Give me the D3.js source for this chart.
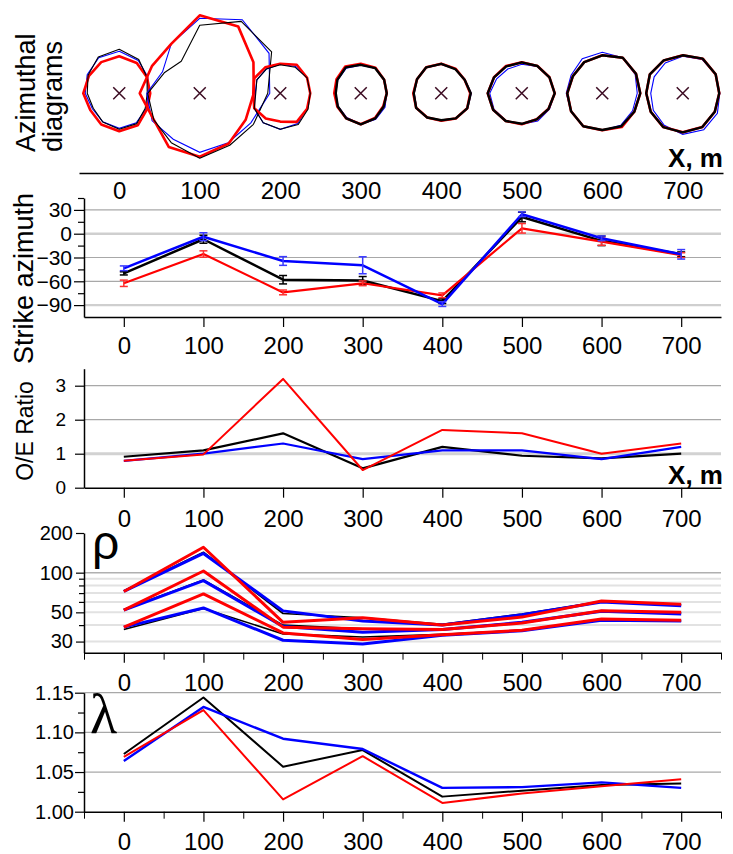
<!DOCTYPE html>
<html><head><meta charset="utf-8">
<script src="https://cdn.jsdelivr.net/npm/d3@7"></script>
<style>
body{margin:0;background:#fff;}
svg{display:block;}
</style></head><body>
<svg id="chart" width="733" height="854"></svg>
<script>
// ---------------- DATA ----------------
const positions = [0, 100, 200, 300, 400, 500, 600, 700];
const tickLabels = ["0", "100", "200", "300", "400", "500", "600", "700"];

// azimuthal diagrams: radii at azimuths 0,30,...,330 (clockwise from north)
const azAngles = [0, 30, 60, 90, 120, 150, 180, 210, 240, 270, 300, 330];
const azBlack = [
  [44, 39, 32, 28, 30, 35, 36, 33, 30, 32, 36, 42],
  [68, 83, 83, 68, 62, 60, 65, 57, 53, 52, 41, 37],
  [28.5, 30, 31, 30, 32, 36, 36, 34, 30, 24.5, 27, 28],
  [28.5, 29, 27, 26, 26.5, 29, 31, 29, 26.5, 25, 27, 30],
  [29.5, 28, 27, 29.5, 30, 29, 27, 28, 29, 27.5, 28, 30],
  [31, 31.5, 32, 33, 31, 30, 30.5, 32, 33, 34, 32, 31],
  [38, 41, 39, 38, 37, 38, 36.7, 38, 36, 35, 34, 36],
  [38, 40, 38, 36.5, 37, 39, 39, 39, 37, 36.5, 38, 38]
];
const azBlue = [
  [42, 38, 33, 29, 31, 34, 35, 33, 31, 34, 37, 41],
  [75, 85, 80, 70, 59, 57, 59, 53, 55, 53, 43, 57],
  [29, 31, 31, 30, 31, 35, 36, 34, 30, 25, 27, 28],
  [28, 29, 27, 26, 28, 30, 31, 28, 26, 25, 26.5, 29],
  [29, 28, 27.5, 30, 30.5, 29, 27, 28, 28.5, 27, 28, 29.5],
  [29, 31, 32, 33, 32, 32, 31, 31.5, 32, 32, 29, 28],
  [41, 41, 38, 35, 35, 37, 37, 38, 36, 36, 36, 40],
  [37, 39, 38, 37, 40, 42, 41, 37, 34, 32, 33, 35]
];
const azRed = [
  [37, 35, 32, 31, 32, 37, 38, 36, 33.5, 36, 35, 36],
  [78, 77, 62, 54, 53, 58, 63.5, 62, 53, 60, 55, 57],
  [29.5, 33, 31, 30, 31, 33, 28.3, 29, 30, 27, 30, 30],
  [29.5, 29.5, 27, 26, 26, 28.5, 31, 29, 27, 26.5, 28, 31],
  [29.5, 28.5, 27, 29, 30, 29, 27.5, 28, 29, 28, 28, 30],
  [31, 31.5, 32, 33, 31, 30, 31, 32, 33, 34, 32, 31.5],
  [38, 41, 39, 38, 37, 39, 37, 38, 36, 35, 34, 36],
  [38, 40, 38, 36.5, 37, 39, 39, 39, 37, 36.5, 38, 38]
];

// strike azimuth (deg) with error half-widths
const strikeBlack = [-50, -7, -58, -59, -85, 21, -9, -26];
const strikeBlackErr = [2, 5, 5.3, 5, 3, 6, 6, 3];
const strikeRed = [-62.5, -25.6, -74, -62.5, -77.7, 6.8, -10, -27];
const strikeRedErr = [4, 4, 3, 3, 3, 6, 4.6, 3];
const strikeBlue = [-43.6, -3.8, -34.4, -39.8, -88.7, 24.5, -5.8, -26];
const strikeBlueErr = [3, 5, 5.5, 10.7, 3, 3, 3, 6];
const strikeTicks = [30, 0, -30, -60, -90];
const strikeMinor = [45, 15, -15, -45, -75];

// O/E ratio
const oeBlack = [0.91, 1.1, 1.6, 0.57, 1.2, 0.94, 0.86, 1.0];
const oeBlue = [0.79, 1.0, 1.3, 0.84, 1.1, 1.1, 0.84, 1.2];
const oeRed = [0.79, 0.98, 3.2, 0.52, 1.7, 1.6, 1.0, 1.3];
const oeTicks = [0, 1, 2, 3];

// resistivity rho (three curves per colour)
const rhoBlackHi = [72.5, 143, 49, 45.5, 40.5, 48.5, 60.5, 57];
const rhoBlackMid = [52.5, 88, 40, 37.5, 37, 42, 51, 49.5];
const rhoBlackLo = [37, 53.5, 34.3, 32.5, 34, 36.5, 44, 43];
const rhoBlueHi = [72, 140, 51.3, 43, 40, 48, 60, 56];
const rhoBlueMid = [52, 87, 39, 35.3, 37, 42, 51, 48.5];
const rhoBlueLo = [38.6, 54, 30.7, 28.7, 33.5, 36.2, 43.5, 43];
const rhoRedHi = [72, 156, 42, 45.5, 40, 46, 61, 57.5];
const rhoRedMid = [52, 103, 38.6, 37.5, 37, 41.5, 51.5, 50];
const rhoRedLo = [38.6, 69, 34.9, 31.1, 33.8, 36.5, 44.5, 43.5];
const rhoTickLabels = [200, 100, 50, 30];
const rhoMinor = [90, 80, 70, 60, 40];
const rhoGrid = [90, 80, 70, 60, 50, 40, 30];

// anisotropy lambda
const lamBlack = [1.0727, 1.144, 1.0567, 1.0777, 1.019, 1.0265, 1.0336, 1.0357];
const lamBlue = [1.064, 1.132, 1.092, 1.079, 1.030, 1.031, 1.037, 1.030];
const lamRed = [1.069, 1.128, 1.0155, 1.070, 1.011, 1.023, 1.032, 1.041];
const lamTicks = [1.00, 1.05, 1.10, 1.15];
const lamMinor = [1.025, 1.075, 1.125];

// ---------------- DRAWING ----------------
const font = '"Liberation Sans", Arial, sans-serif';
const svg = d3.select("#chart").attr("font-family", font);
const C = {blue: "#0000ff", black: "#000000", red: "#ff0000"};

const xTop = d3.scaleLinear().domain([-50, 750]).range([79, 723]);
const xLow = d3.scaleLinear().domain([-50, 750]).range([84, 721]);
const rAz = d3.scaleLinear().domain([0, 100]).range([0, 100]);

// ---- Panel 1: azimuthal diagrams
const azCy = 93.3;
const radial = d3.lineRadial()
  .angle((d, i) => azAngles[i] * Math.PI / 180)
  .radius(d => rAz(d))
  .curve(d3.curveLinearClosed);

positions.forEach((p, s) => {
  const g = svg.append("g").attr("transform", `translate(${xTop(p)},${azCy})`);
  g.append("path").attr("d", radial(azBlue[s])).attr("fill", "none")
    .attr("stroke", C.blue).attr("stroke-width", 1.1);
  g.append("path").attr("d", radial(azRed[s])).attr("fill", "none")
    .attr("stroke", C.red).attr("stroke-width", 2.6).attr("stroke-linejoin", "round");
  g.append("path").attr("d", radial(azBlack[s])).attr("fill", "none")
    .attr("stroke", C.black).attr("stroke-width", s < 3 ? 1.1 : 2.4).attr("stroke-linejoin", "round");
  g.append("path").attr("d", "M-6,-6L6,6M-6,6L6,-6")
    .attr("stroke", "#3c0b22").attr("stroke-width", 1.5);
});

const topAxis = svg.append("g").attr("transform", "translate(0,173)")
  .call(d3.axisBottom(xTop).tickValues(positions).tickSize(0).tickSizeOuter(0)
    .tickPadding(9).tickFormat((d, i) => tickLabels[i]));
topAxis.select(".domain").attr("stroke-width", 1.5);
topAxis.selectAll("text").attr("font-size", 24).attr("font-family", font).attr("fill", "#000");

svg.append("text").attr("transform", "translate(35,152) rotate(-90)")
  .attr("font-size", 27).text("Azimuthal");
svg.append("text").attr("transform", "translate(62,152) rotate(-90)")
  .attr("font-size", 27).text("diagrams");
svg.append("text").attr("x", 723).attr("y", 166.5).attr("text-anchor", "end")
  .attr("font-size", 26).attr("font-weight", "bold").text("X, m");

// helpers
function grid(yScale, vals, color, width) {
  svg.append("g").selectAll("line").data(vals).join("line")
    .attr("x1", xLow.range()[0]).attr("x2", xLow.range()[1])
    .attr("y1", d => yScale(d)).attr("y2", d => yScale(d))
    .attr("stroke", color).attr("stroke-width", width);
}
function xAxis(yPos, major, padding, withMinor) {
  if (withMinor) {
    const minorVals = d3.range(-50, 751, 100);
    svg.append("g").attr("transform", `translate(0,${yPos})`)
      .call(d3.axisBottom(xLow).tickValues(minorVals).tickSize(7).tickSizeOuter(0).tickFormat(""))
      .call(g => g.select(".domain").remove());
  }
  const g = svg.append("g").attr("transform", `translate(0,${yPos})`)
    .call(d3.axisBottom(xLow).tickValues(major).tickSize(10).tickSizeOuter(0)
      .tickPadding(padding).tickFormat((d, i) => tickLabels[i]));
  g.select(".domain").attr("stroke-width", 1.5);
  g.selectAll(".tick line").attr("stroke-width", 1.2);
  g.selectAll("text").attr("font-size", 24).attr("font-family", font).attr("fill", "#000");
  return g;
}
function yAxis(yScale, major, minor, fmt, fontSize, padding, majorLen, minorLen) {
  if (minor.length) {
    svg.append("g").attr("transform", `translate(${xLow.range()[0]},0)`)
      .call(d3.axisLeft(yScale).tickValues(minor).tickSize(minorLen).tickSizeOuter(0).tickFormat(""))
      .call(g => g.select(".domain").remove())
      .selectAll("line").attr("stroke-width", 1.2);
  }
  const g = svg.append("g").attr("transform", `translate(${xLow.range()[0]},0)`)
    .call(d3.axisLeft(yScale).tickValues(major).tickSize(majorLen).tickSizeOuter(0)
      .tickPadding(padding).tickFormat(fmt));
  g.select(".domain").attr("stroke-width", 1.5);
  g.selectAll(".tick line").attr("stroke-width", 1.2);
  g.selectAll("text").attr("font-size", fontSize).attr("font-family", font).attr("fill", "#000");
  return g;
}
function series(yScale, vals, color, width) {
  const line = d3.line().x((d, i) => xLow(positions[i])).y(d => yScale(d));
  svg.append("path").datum(vals).attr("d", line).attr("fill", "none")
    .attr("stroke", color).attr("stroke-width", width).attr("stroke-linejoin", "round");
}

// ---- Panel 2: strike azimuth
const yStrike = d3.scaleLinear().domain([-105, 45]).range([317, 198]);
grid(yStrike, [30, -30, -60], "#a8a8a8", 1.2);
grid(yStrike, [0, -90], "#cfcfcf", 2.4);
function errorBars(vals, errs, color) {
  const g = svg.append("g").attr("stroke", color).attr("stroke-width", 1.5);
  vals.forEach((v, i) => {
    const x = xLow(positions[i]);
    const y1 = yStrike(v - errs[i]), y2 = yStrike(v + errs[i]);
    g.append("line").attr("x1", x).attr("x2", x).attr("y1", y1).attr("y2", y2);
    g.append("line").attr("x1", x - 4).attr("x2", x + 4).attr("y1", y1).attr("y2", y1);
    g.append("line").attr("x1", x - 4).attr("x2", x + 4).attr("y1", y2).attr("y2", y2);
  });
}
series(yStrike, strikeBlack, C.black, 2.5);
errorBars(strikeBlack, strikeBlackErr, C.black);
series(yStrike, strikeRed, C.red, 2.2);
errorBars(strikeRed, strikeRedErr, "#ff3030");
series(yStrike, strikeBlue, C.blue, 2.5);
errorBars(strikeBlue, strikeBlueErr, "#3a3aff");
xAxis(317, positions, 10, false);
yAxis(yStrike, strikeTicks, strikeMinor, d3.format("d"), 21, 2, 10, 6);
svg.append("text").attr("transform", "translate(33,364) rotate(-90)")
  .attr("font-size", 27).text("Strike azimuth");

// ---- Panel 3: O/E ratio
const yOE = d3.scaleLinear().domain([0, 3.5]).range([487.7, 368.7]);
grid(yOE, [2, 3], "#a8a8a8", 1.2);
grid(yOE, [1], "#d2d2d2", 3);
series(yOE, oeBlack, C.black, 2.2);
series(yOE, oeBlue, C.blue, 2.2);
series(yOE, oeRed, C.red, 2);
xAxis(487.7, positions, 12, false);
yAxis(yOE, oeTicks, [], d3.format("d"), 19, 9, 9, 0);
svg.append("text").attr("transform", "translate(33,431) rotate(-90)")
  .attr("text-anchor", "middle").attr("font-size", 23).text("O/E Ratio");
svg.append("text").attr("x", 723).attr("y", 484).attr("text-anchor", "end")
  .attr("font-size", 26).attr("font-weight", "bold").text("X, m");

// ---- Panel 4: rho
const yRho = d3.scaleLog().domain([24.7, 200]).range([652.7, 533]);
grid(yRho, rhoGrid, "#e2e2e2", 2);
grid(yRho, [100], "#b0b0b0", 1.5);
[[rhoBlackHi, rhoBlackMid, rhoBlackLo], [rhoBlueHi, rhoBlueMid, rhoBlueLo], [rhoRedHi, rhoRedMid, rhoRedLo]]
  .forEach((set, k) => set.forEach(v => series(yRho, v, [C.black, C.blue, C.red][k], k === 0 ? 1.6 : 3)));
xAxis(652.7, positions, 11, true);
yAxis(yRho, rhoTickLabels, rhoMinor, d3.format("d"), 20, 3, 8, 5);
svg.append("text").attr("x", 92).attr("y", 559).attr("font-size", 48).text("ρ");

// ---- Panel 5: lambda
const yLam = d3.scaleLinear().domain([1.0, 1.15]).range([811.7, 692.7]);
grid(yLam, [1.05, 1.10, 1.15], "#a8a8a8", 1.2);
series(yLam, lamBlack, C.black, 2);
series(yLam, lamBlue, C.blue, 2.4);
series(yLam, lamRed, C.red, 2);
xAxis(811.7, positions, 11, true);
yAxis(yLam, lamTicks, lamMinor, d3.format(".2f"), 20, 1, 9, 6);
svg.append("text").attr("x", 90).attr("y", 733)
  .attr("font-family", '"Liberation Serif", "DejaVu Serif", serif')
  .attr("font-size", 56).text("λ");
</script>
</body></html>
